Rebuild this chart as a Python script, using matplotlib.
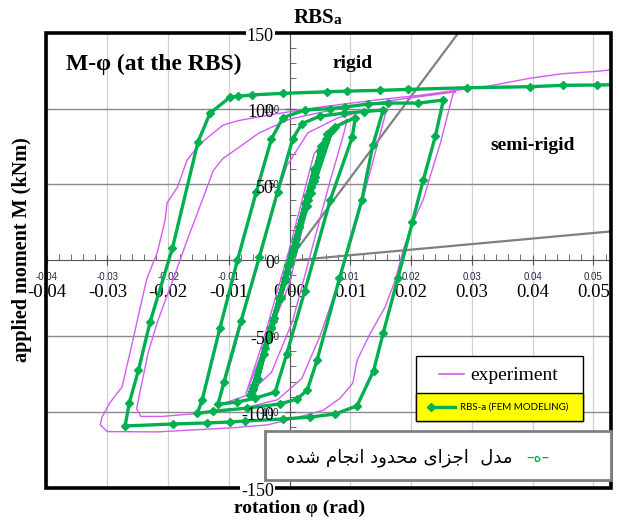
import numpy as np
import matplotlib
matplotlib.use("Agg")
import matplotlib.pyplot as plt
from matplotlib.patches import Rectangle
from matplotlib.lines import Line2D
from matplotlib.ticker import MultipleLocator, FixedLocator

W, H = 619, 522

# ---- data ----
# FEM model (green, diamond markers): rotation (rad), moment (kNm)
fem_phi = [0, 0.0015, -0.0003, -0.0018, 0.0002,
           0.0028, 0.0005, -0.0030, -0.0008,
           0.0040, 0.0015, -0.0042, -0.0015,
           0.0052, 0.0025, -0.0052, -0.0025,
           0.0058, 0.0028, -0.0008, -0.0058, -0.0030, 0.0005,
           0.0060, 0.0030, -0.0005, -0.0062, -0.0030, 0.0005,
           0.0062, 0.0035, -0.0060, -0.0035,
           0.0065, 0.0035, -0.0002, -0.0060, -0.0028, 0.0010,
           0.0068, 0.0040, 0.0000, -0.0064, -0.0034, 0.0003,
           0.0070, 0.0042, -0.0065, -0.0040,
           0.0010, 0.0050, 0.0075, 0.0108,
           0.0103, 0.0067, 0.0025, -0.0005, -0.0024,
           -0.0057, -0.0086, -0.0118,
           -0.0108, -0.0080, -0.0050, -0.0020, 0.0005, 0.0020,
           0.0050, 0.0090, 0.0123, 0.0154,
           0.0137, 0.0119, 0.0082, 0.0045, 0.0029, 0.0012,
           -0.0016, -0.0070, -0.0126, -0.0152,
           -0.0144, -0.0115, -0.0086, -0.0055, -0.0030, -0.0011,
           0.0025, 0.0067, 0.0091, 0.0129, 0.0162, 0.0212, 0.0253,
           0.0240, 0.0220, 0.0202, 0.0178, 0.0154, 0.0138, 0.0111,
           0.0075, 0.0034, -0.0011, -0.0073, -0.0098, -0.0136, -0.0192, -0.0271,
           -0.0264, -0.0249, -0.0230, -0.0193, -0.0151, -0.0131, -0.0098, -0.0085,
           -0.0062, -0.0011, 0.0062, 0.0095, 0.0149, 0.0194, 0.0292, 0.0396,
           0.0450, 0.0506, 0.0580]
fem_m = [0, 22, -3, -25, 3,
         42, 8, -44, -12,
         60, 22, -62, -25,
         75, 38, -78, -38,
         78, 36, -14, -82, -45, 6,
         80, 40, -8, -86, -45, 6,
         83, 48, -85, -52,
         84, 44, -4, -84, -40, 14,
         85, 52, -2, -88, -48, 4,
         86, 55, -89, -58,
         10, 72, 88, 94,
         81, 40, -20, -62, -87,
         -91, -93.5, -95,
         -80, -40, 2, 45, 80, 90,
         95, 97, 98, 99,
         76, 40, -12, -66, -85.6, -91.6,
         -94.8, -97.5, -99.6, -101,
         -92, -45, 0, 45, 80, 94,
         99, 100, 101, 103, 103.6, 103.6, 105.6,
         82, 53, 25, -12, -48, -73, -96,
         -101.4, -103.4, -104.7, -106, -106.7, -107.3, -108, -109.3,
         -94, -72.6, -41, 8, 78, 97, 107.6, 108,
         109, 110, 111, 111.5, 112, 112.6, 113.7, 114.4,
         115.3, 115.5, 116]

# experiment (thin magenta line)
exp_phi = [0, 0.0025, 0.0, -0.0025, 0.0, 0.0040, 0.0010, -0.0040, -0.0010,
           0.0055, 0.0020, -0.0055, -0.0020, 0.0068, 0.0035, 0.0, -0.0072,
           -0.0045, 0.0, 0.0040, 0.0075, 0.0095,
           0.0088, 0.0065, 0.0035, 0.0005, -0.0030, -0.0070, -0.0120,
           -0.0112, -0.0092, -0.0065, -0.0035, -0.0005, 0.0030, 0.0080, 0.0120, 0.0160,
           0.0152, 0.0135, 0.0110, 0.0080, 0.0050, 0.0020, -0.0020, -0.0080,
           -0.0150, -0.0210, -0.0245, -0.0252,
           -0.0249, -0.0246, -0.0233, -0.0218, -0.0185, -0.0169, -0.0152, -0.0136,
           -0.0126, -0.0110, -0.0085, -0.0050, 0.0, 0.0080, 0.0180, 0.0273,
           0.0269, 0.0248, 0.0231, 0.0220, 0.0202, 0.0187, 0.0174, 0.0157, 0.0133,
           0.0111, 0.0104, 0.0083, 0.0055, 0.0, -0.0037, -0.0098, -0.0218, -0.0300,
           -0.0312, -0.0309, -0.0296, -0.0276, -0.0258, -0.0246, -0.0235, -0.0218,
           -0.0205, -0.0202, -0.0185, -0.0169, -0.0147, -0.0110, -0.0085, -0.0030,
           0.0050, 0.0150, 0.0220, 0.0273, 0.0330, 0.0396, 0.0450, 0.0506, 0.0580]
exp_m = [0, 35, -3, -36, 2, 58, 10, -60, -12,
         78, 25, -80, -30, 86, 45, -15, -88,
         -55, 8, 70, 88, 93,
         82, 50, 5, -40, -74, -89, -96,
         -88, -60, -20, 25, 62, 84, 94, 98, 100,
         88, 62, 25, -15, -50, -78, -92, -98,
         -101, -103, -103, -98,
         -92, -86, -61, -41, -5, 13, 31, 48,
         59, 67, 74, 84, 93, 100, 106, 111,
         110, 77, 55, 40, 24, 7, -13, -31, -48,
         -66, -81, -91, -99, -105, -108.6, -110.6, -113.2, -113,
         -108.6, -103.5, -94, -83.6, -52.6, -31, -12, 5,
         26.5, 37.7, 48, 66, 77, 89, 92, 96,
         101, 106, 109, 112, 115, 120, 123, 124.5, 128]

# reference stiffness lines
rigid_phi = [0.0008, 0.0278]
rigid_m = [5, 150]
semi_phi = [0.0010, 0.0529]
semi_m = [0.0, 19.0]

x_ticks = [-0.04, -0.03, -0.02, -0.01, 0.0, 0.01, 0.02, 0.03, 0.04, 0.05]
x_small = ["-0.04", "-0.03", "-0.02", "-0.01", "0", "0.01", "0.02", "0.03", "0.04", "0.05"]
x_big = ["-0.04", "-0.03", "-0.02", "-0.01", "0.00", "0.01", "0.02", "0.03", "0.04", "0.05"]
y_ticks = [-100, -50, 0, 50, 100]
y_small = ["-100", "-50", "0", "50", "100"]
y_big_vals = [150, 100, 50, 0, -50, -100, -150]
y_grid = [-100, -50, 50, 100]

persian = "مدل  اجزای محدود انجام شده"

# simple Arabic-script shaping (matplotlib has no shaper)
FORMS = {
    "ا": ("\uFE8D", "\uFE8E"), "د": ("\uFEA9", "\uFEAA"), "ز": ("\uFEAF", "\uFEB0"),
    "و": ("\uFEED", "\uFEEE"),
    "ی": ("\uFEEF", "\uFEF0", "\uFEF3", "\uFEF4"),
    "م": ("\uFEE1", "\uFEE2", "\uFEE3", "\uFEE4"),
    "ل": ("\uFEDD", "\uFEDE", "\uFEDF", "\uFEE0"),
    "ج": ("\uFE9D", "\uFE9E", "\uFE9F", "\uFEA0"),
    "ح": ("\uFEA1", "\uFEA2", "\uFEA3", "\uFEA4"),
    "ن": ("\uFEE5", "\uFEE6", "\uFEE7", "\uFEE8"),
    "ش": ("\uFEB5", "\uFEB6", "\uFEB7", "\uFEB8"),
    "ه": ("\uFEE9", "\uFEEA", "\uFEEB", "\uFEEC"),
}


def shape(text):
    out = []
    for i, ch in enumerate(text):
        if ch not in FORMS:
            out.append(ch)
            continue
        prev = text[i - 1] if i > 0 else " "
        nxt = text[i + 1] if i + 1 < len(text) else " "
        jp = prev in FORMS and len(FORMS[prev]) == 4
        jn = nxt in FORMS and len(FORMS[ch]) == 4
        f = FORMS[ch]
        if jp and jn:
            out.append(f[3])
        elif jp:
            out.append(f[1])
        elif jn:
            out.append(f[2])
        else:
            out.append(f[0])
    return "".join(out)[::-1]


def px(x, y):
    return x / W, 1 - y / H


green = "#00B050"
magenta = "#D35CF2"
serif = "Liberation Serif"

fig = plt.figure(figsize=(W / 100, H / 100), dpi=100)
ax = fig.add_axes([45.5 / W, 1 - 487.7 / H, (611 - 45.5) / W, 455 / H])
ax.set_xlim(-0.0402, 0.0529)
ax.set_ylim(-150, 150)

# grid
for xv in x_ticks:
    ax.axvline(xv, color="#d0d0d0", lw=0.9, zorder=0.5)
for yv in y_grid:
    ax.axhline(yv, color="#8a8a8a", lw=1.0, zorder=0.5)

# axes through the origin
for s in ["top", "right"]:
    ax.spines[s].set_visible(False)
ax.spines["left"].set_position(("data", 0))
ax.spines["bottom"].set_position(("data", 0))
ax.spines["left"].set_color("#555555")
ax.spines["bottom"].set_color("#555555")
ax.xaxis.set_major_locator(FixedLocator(x_ticks))
ax.xaxis.set_minor_locator(MultipleLocator(0.002))
ax.yaxis.set_major_locator(FixedLocator(y_ticks))
ax.yaxis.set_minor_locator(MultipleLocator(10))
ax.set_xticklabels(x_small)
ax.set_yticklabels(y_small)
ax.tick_params(axis="x", which="major", direction="inout", length=7, labelsize=7,
               pad=5, labelcolor="#1f2a44", color="#555555")
ax.tick_params(axis="y", which="major", direction="inout", length=7, labelsize=7,
               pad=4, labelcolor="#1f2a44", color="#555555")
ax.tick_params(which="minor", direction="in", length=4, color="#555555")
for lab in ax.get_xticklabels() + ax.get_yticklabels():
    lab.set_family("Liberation Sans")

# big overlaid tick labels
for xv, t in zip(x_ticks, x_big):
    ax.text(xv, -21, t, ha="center", va="center", fontsize=13.5, family=serif, zorder=1)
for yv in y_big_vals:
    bb = dict(fc="white", ec="none", pad=0.5) if abs(yv) == 150 else None
    ax.text(-0.0026, yv - 2.5, str(yv), ha="right", va="center", fontsize=13, family=serif,
            zorder=7, bbox=bb, clip_on=False)

# curves
ax.plot(rigid_phi, rigid_m, color="#808080", lw=1.6, zorder=2)
ax.plot(semi_phi, semi_m, color="#808080", lw=1.6, zorder=2)
ax.plot(exp_phi, exp_m, color=magenta, lw=1.0, zorder=3)
ax.plot(fem_phi, fem_m, color=green, lw=2.4, marker="D", ms=4, zorder=4)

ax.add_patch(Rectangle((0, 0), 1, 1, transform=ax.transAxes, fill=False, lw=2.6,
                       ec="black", clip_on=False, zorder=6))

# texts
fig.text(*px(334, 18), "RBS", ha="right", va="center", fontsize=15, weight="bold", family=serif)
fig.text(*px(334, 21), "a", ha="left", va="center", fontsize=11, weight="bold", family=serif)
fig.text(*px(154, 64), "M-φ (at the RBS)", ha="center", va="center", fontsize=17,
         weight="bold", family=serif)
fig.text(*px(353, 63), "rigid", ha="center", va="center", fontsize=14, weight="bold", family=serif)
fig.text(*px(533, 145), "semi-rigid", ha="center", va="center", fontsize=14, weight="bold", family=serif)
fig.text(*px(22, 250), "applied moment M (kNm)", ha="center", va="center", rotation=90,
         fontsize=14.5, weight="bold", family=serif)
fig.text(*px(300, 508), "rotation φ (rad)", ha="center", va="center", fontsize=14,
         weight="bold", family=serif)

# legend 1
fig.add_artist(Rectangle(px(416, 420.7), (583 - 416) / W, (420.7 - 356) / H,
                         transform=fig.transFigure, fc="white", ec="black", lw=1, zorder=8))
fig.add_artist(Rectangle(px(416, 420.7), (583 - 416) / W, (420.7 - 393) / H,
                         transform=fig.transFigure, fc="#FFFF00", ec="black", lw=1, zorder=9))
fig.add_artist(Line2D([439 / W, 464 / W], [1 - 374 / H] * 2, transform=fig.transFigure,
                      color=magenta, lw=1.2, zorder=10))
fig.text(*px(470, 375), "experiment", ha="left", va="center", fontsize=14, family=serif, zorder=10)
fig.add_artist(Line2D([431 / W, 455 / W], [1 - 407 / H] * 2, transform=fig.transFigure,
                      color=green, lw=2.4, marker="D", ms=4, markevery=[0], zorder=10))
fig.text(*px(460, 407), "RBS-a (FEM MODELING)", ha="left", va="center", fontsize=7,
         family="Lato", zorder=10)

# legend 2 (Persian)
fig.add_artist(Rectangle(px(265, 480), (611 - 265) / W, (480 - 431) / H,
                         transform=fig.transFigure, fc="white", ec="#7f7f7f", lw=2, zorder=8))
fig.text(*px(512, 458), shape(persian), ha="right", va="center", fontsize=13,
         family="DejaVu Sans", color="black", zorder=10)
fig.text(*px(538, 457), "–" + "\uFEE9" + "–", ha="center", va="center", fontsize=11,
         family="DejaVu Sans", color=green, zorder=10)

fig.savefig("out.png", dpi=100)
